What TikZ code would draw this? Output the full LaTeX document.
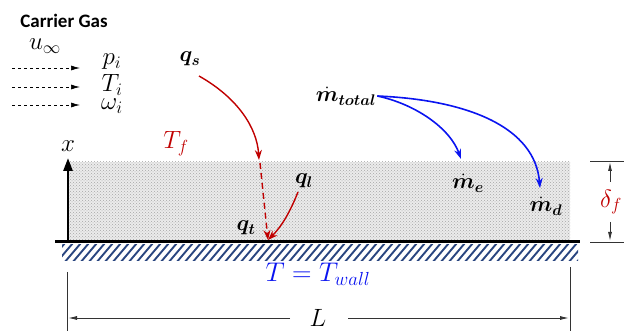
\RequirePackage{fix-cm}
\documentclass[tikz,border=0pt]{standalone}
\usepackage{amsmath}
\usepackage{bm}
\usepackage{fontspec}
\newfontfamily\carlito{Carlito}
\usetikzlibrary{arrows.meta,patterns}
\definecolor{myred}{HTML}{C00000}
\definecolor{myblue}{HTML}{0A14F0}
\definecolor{hatchblue}{HTML}{2A4680}
\tikzset{
  lbl/.style={inner sep=1pt},
  bl/.style={inner sep=1pt, font=\fontsize{22}{26}\selectfont},
  gasarrow/.style={dashed, line width=0.7pt, -{Latex[length=9pt,width=5pt]}},
  redarrow/.style={myred, line width=1.4pt, -{Stealth[length=10pt,width=7pt]}},
  bluearrow/.style={myblue, line width=1.6pt, -{Stealth[length=10pt,width=7pt]}},
  dimline/.style={line width=0.9pt, black!80},
  dimarrow/.style={line width=0.9pt, black!80, -{Latex[length=9pt,width=4pt]}},
  hatch/.style={hatchblue, line width=1.9pt},
}
\begin{document}
\begin{tikzpicture}[x=1pt,y=-1pt,font=\fontsize{25}{30}\selectfont]
\useasboundingbox (0,0) rectangle (624,331);
% film
\path[fill=gray!16] (68,162) rectangle (570,240);
\path[pattern=crosshatch dots, pattern color=gray!70] (68,162) rectangle (570,240);
% hatch
\begin{scope}
\clip (62,245) rectangle (578,261);
\foreach \i in {40,48,...,600} \draw[hatch] (\i,263) -- ({\i+17},243);
\end{scope}
% wall
\coordinate (wl) at (55,242);
\coordinate (wr) at (580,242);
\draw[line width=3pt] (wl) -- (wr);
% x axis
\coordinate (xbase) at (68,241);
\node[lbl] (xlab) at (68,146) {$x$};
\draw[line width=2.6pt, -{Triangle[length=13pt,width=9pt]}] (xbase) -- (68,158);
% carrier gas
\node[inner sep=0pt,font=\carlito\bfseries\fontsize{19}{22}\selectfont] (cg) at (64,21) {Carrier Gas};
\node[lbl] (uinf) at (45,46) {$u_\infty$};
\node[lbl] (pi) at (112,62) {$p_i$};
\node[lbl] (Ti) at (112,85) {$T_i$};
\node[lbl] (wi) at (112,106) {$\omega_i$};
\coordinate (g1s) at (12,68); \coordinate (g1e) at (80,68);
\coordinate (g2s) at (12,87); \coordinate (g2e) at (80,87);
\coordinate (g3s) at (12,105); \coordinate (g3e) at (80,105);
\draw[gasarrow] (g1s) -- (g1e);
\draw[gasarrow] (g2s) -- (g2e);
\draw[gasarrow] (g3s) -- (g3e);
% heat fluxes
\node[bl] (qs) at (190,59) {$\bm{q_s}$};
\node[lbl,text=myred] (Tf) at (176,144) {$T_f$};
\node[bl] (ql) at (304,181) {$\bm{q_l}$};
\node[bl] (qt) at (246,228) {$\bm{q_t}$};
\coordinate (qsend) at (259,160);
\coordinate (dashs) at (260,163);
\coordinate (hit) at (268,240);
\draw[redarrow] (199,76) .. controls (238,98) and (257,128) .. (qsend);
\draw[redarrow, dashed, dash pattern=on 6pt off 4pt] (dashs) -- (hit);
\coordinate (qls) at (298,192);
\draw[redarrow] (qls) .. controls (290,212) and (282,226) .. (hit);
% mass flows
\node[bl,inner sep=0pt] (mt) at (346,96) {$\bm{\dot m_{total}}$};
\node[bl] (me) at (468,183) {$\bm{\dot m_{e}}$};
\node[bl] (md) at (546,206) {$\bm{\dot m_{d}}$};
\coordinate (mee) at (461,159);
\coordinate (mde) at (540,188);
\draw[bluearrow] ([xshift=1pt]mt.east) .. controls (415,104) and (450,128) .. (mee);
\draw[bluearrow] ([xshift=1pt]mt.east) .. controls (470,100) and (535,128) .. (mde);
% wall temperature
\node[lbl,text=myblue,font=\fontsize{27}{32}\selectfont] (Tw) at (318,274) {$T = T_{wall}$};
% delta_f
\coordinate (d1l) at (590,161); \coordinate (d1r) at (624,161);
\coordinate (d2l) at (590,242); \coordinate (d2r) at (624,242);
\draw[dimline] (d1l) -- (d1r);
\draw[dimline] (d2l) -- (d2r);
\node[lbl,text=myred] (df) at (611,202) {$\delta_f$};
\coordinate (dtop) at (610,162);
\coordinate (dbot) at (610,241);
\draw[dimarrow] (610,182) -- (dtop);
\draw[dimarrow] (610,222) -- (dbot);
% L dimension
\coordinate (Lt) at (67,272); \coordinate (Lb) at (67,331);
\coordinate (Rt) at (570,267); \coordinate (Rb) at (570,331);
\draw[dimline] (Lt) -- (Lb);
\draw[dimline] (Rt) -- (Rb);
\node[lbl] (L) at (318,318) {$L$};
\coordinate (Lend) at (68,318);
\coordinate (Rend) at (569,318);
\draw[dimarrow] (290,318) -- (Lend);
\draw[dimarrow] (348,318) -- (Rend);
\end{tikzpicture}
\end{document}
